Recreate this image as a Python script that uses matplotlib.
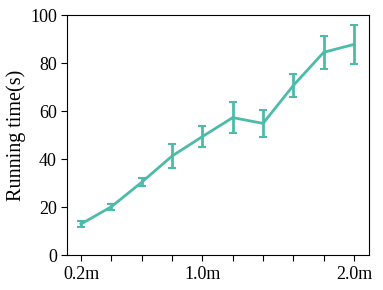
import matplotlib
matplotlib.use("Agg")
import matplotlib.pyplot as plt

# === Data ===
sizes = ["0.2m", "0.4m", "0.6m", "0.8m", "1.0m", "1.2m", "1.4m", "1.6m", "1.8m", "2.0m"]
run_time = [13.0, 20.2, 30.4, 41.3, 49.4, 57.3, 54.9, 70.7, 84.5, 87.8]
run_err = [1.2, 1.2, 1.6, 5.0, 4.3, 6.6, 5.6, 4.9, 6.8, 8.0]
shown_labels = ["0.2m", "1.0m", "2.0m"]

# === Plot Configuration ===
plt.rcParams.update({
    "font.family": "serif",
    "font.serif": ["Liberation Serif", "DejaVu Serif"],
    "font.size": 13,
})

color = "#4dbbaa"

fig, ax = plt.subplots(figsize=(3.83, 2.90), dpi=100)
fig.subplots_adjust(left=0.176, right=0.964, top=0.948, bottom=0.12)

x = list(range(len(sizes)))
ax.errorbar(x, run_time, yerr=run_err, color=color, linewidth=2.0,
            elinewidth=2.0, capsize=3, capthick=1.5)

ax.set_xticks(x)
ax.set_xticklabels([s if s in shown_labels else "" for s in sizes])
ax.set_xlim(-0.45, 9.5)
ax.set_ylim(0, 100)
ax.set_yticks([0, 20, 40, 60, 80, 100])
ax.set_ylabel("Running time(s)", fontsize=14.5, labelpad=3)
ax.tick_params(labelsize=13, length=4)

plt.savefig("out.png", dpi=100)
plt.close()
